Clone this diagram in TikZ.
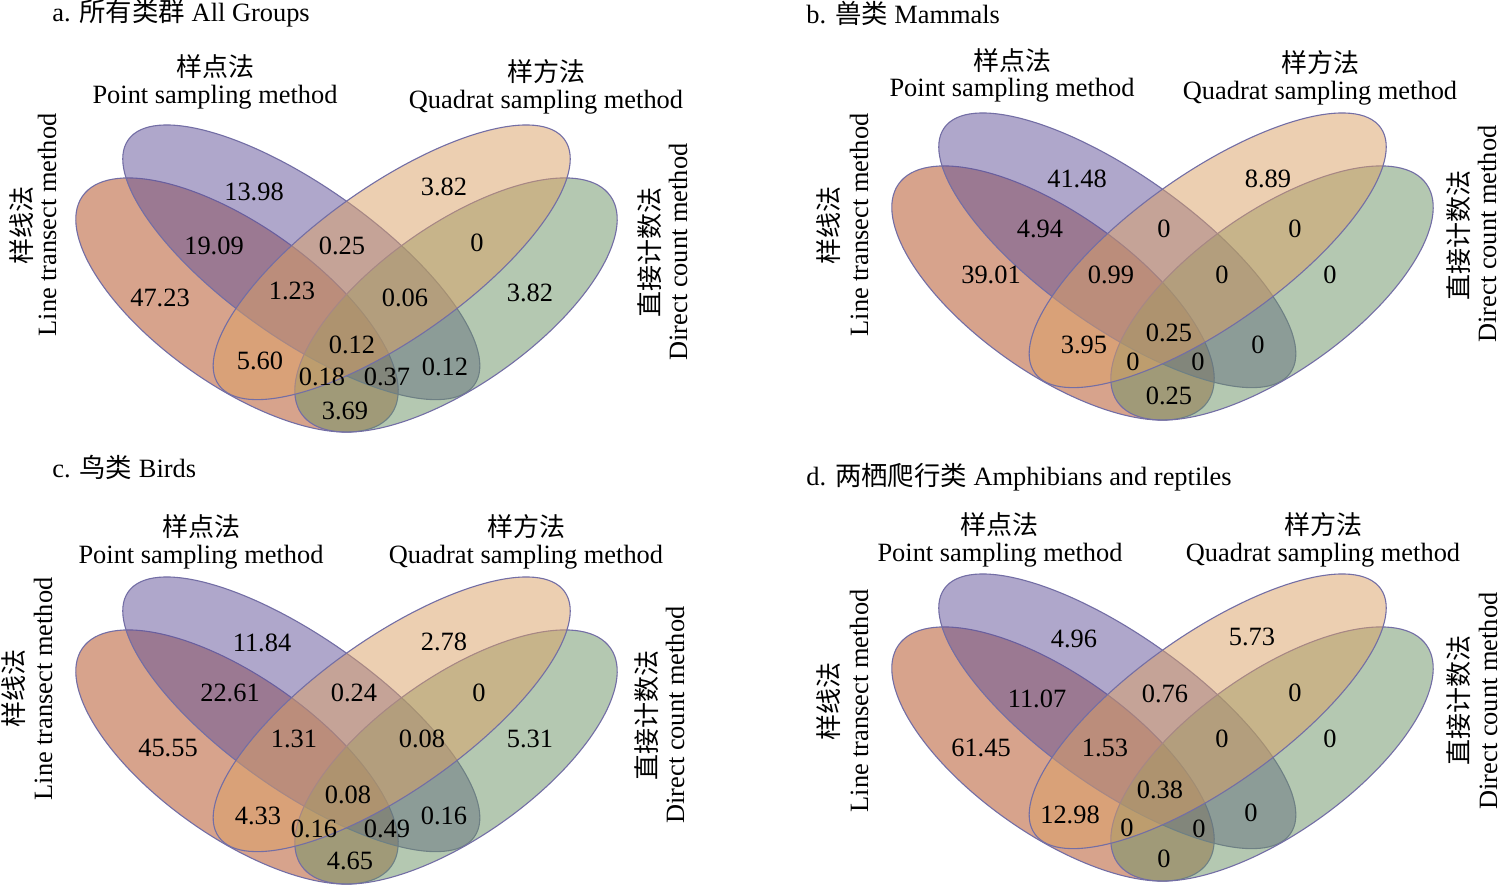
\documentclass[tikz,border=0pt]{standalone}
\usepackage{fontspec}
\setmainfont{Liberation Serif}
\newfontfamily\cjk{Noto Sans CJK SC}
\definecolor{cRed}{RGB}{177,73,27}
\definecolor{cBlue}{RGB}{97,81,153}
\definecolor{cOrange}{RGB}{219,161,101}
\definecolor{cGreen}{RGB}{107,147,101}
\definecolor{cLine}{RGB}{115,110,165}
\tikzset{
  setshape/.style={draw=cLine, line width=0.55pt, fill opacity=0.5},
  num/.style={inner sep=0pt, font=\fontsize{13.2}{15}\selectfont},
  lab/.style={inner sep=0pt, font=\fontsize{13.2}{15}\selectfont},
  cnlab/.style={inner sep=0pt, font=\cjk\fontsize{13}{15}\selectfont},
  vert/.style={rotate=90},
  ttl/.style={inner sep=0pt, anchor=west, font=\fontsize{13.2}{15}\selectfont}
}
\newcommand{\vennsets}{%
  \path[setshape, fill=cRed, rotate around={-35.2:(237,305)}] (237,305) ellipse [x radius=189, y radius=80];
  \path[setshape, fill=cBlue, rotate around={-35.3:(301.3,262.3)}] (301.3,262.3) ellipse [x radius=212, y radius=76];
  \path[setshape, fill=cGreen, rotate around={35.2:(456,305)}] (456,305) ellipse [x radius=189, y radius=80];
  \path[setshape, fill=cOrange, rotate around={35.3:(391.7,262.3)}] (391.7,262.3) ellipse [x radius=212, y radius=76];
}
\begin{document}
\begin{tikzpicture}[x=0.5pt, y=-0.5pt]
\fill[white] (0,0) rectangle (1500,884);
\useasboundingbox (0,0) rectangle (1500,884);
% ellipses
\begin{scope}\vennsets\end{scope}
\begin{scope}[shift={(816,-12)}]\vennsets\end{scope}
\begin{scope}[shift={(0,452)}]\vennsets\end{scope}
\begin{scope}[shift={(816,449)}]\vennsets\end{scope}
% ---------- panel a
\node[ttl] (ta) at (52,13) {a. {\cjk 所有类群} All Groups};
\node[cnlab] (apc) at (215,67) {样点法};
\node[lab] (ape) at (215,97) {Point sampling method};
\node[cnlab] (aqc) at (546,72) {样方法};
\node[lab] (aqe) at (546,102) {Quadrat sampling method};
\node[cnlab, vert] (alc) at (22,225) {样线法};
\node[lab, vert] (ale) at (47,225) {Line transect method};
\node[cnlab, vert] (adc) at (650,252) {直接计数法};
\node[lab, vert] (ade) at (678,252) {Direct count method};
\node[num] (a1) at (254,192) {13.98};
\node[num] (a2) at (444,187) {3.82};
\node[num] (a3) at (214,246) {19.09};
\node[num] (a4) at (342,246) {0.25};
\node[num] (a5) at (477,243) {0};
\node[num] (a6) at (160,298) {47.23};
\node[num] (a7) at (292,291) {1.23};
\node[num] (a8) at (405,298) {0.06};
\node[num] (a9) at (530,293) {3.82};
\node[num] (a10) at (352,345) {0.12};
\node[num] (a11) at (260,361) {5.60};
\node[num] (a12) at (322,377) {0.18};
\node[num] (a13) at (387,377) {0.37};
\node[num] (a14) at (445,367) {0.12};
\node[num] (a15) at (345,411) {3.69};
% ---------- panel b
\node[ttl] (tb) at (806,13) {b. {\cjk 兽类} Mammals};
\node[cnlab] (bpc) at (1012,61) {样点法};
\node[lab] (bpe) at (1012,90) {Point sampling method};
\node[cnlab] (bqc) at (1320,63) {样方法};
\node[lab] (bqe) at (1320,93) {Quadrat sampling method};
\node[cnlab, vert] (blc) at (829,225) {样线法};
\node[lab, vert] (ble) at (859,225) {Line transect method};
\node[cnlab, vert] (bdc) at (1459,235) {直接计数法};
\node[lab, vert] (bde) at (1487,234) {Direct count method};
\node[num] (b1) at (1077,179) {41.48};
\node[num] (b2) at (1268,179) {8.89};
\node[num] (b3) at (1040,229) {4.94};
\node[num] (b4) at (1164,229) {0};
\node[num] (b5) at (1295,229) {0};
\node[num] (b6) at (991,275) {39.01};
\node[num] (b7) at (1111,275) {0.99};
\node[num] (b8) at (1222,275) {0};
\node[num] (b9) at (1330,275) {0};
\node[num] (b10) at (1169,333) {0.25};
\node[num] (b11) at (1084,345) {3.95};
\node[num] (b12) at (1133,362) {0};
\node[num] (b13) at (1198,362) {0};
\node[num] (b14) at (1258,345) {0};
\node[num] (b15) at (1169,396) {0.25};
% ---------- panel c
\node[ttl] (tc) at (52,467) {c. {\cjk 鸟类} Birds};
\node[cnlab] (cpc) at (201,527) {样点法};
\node[lab] (cpe) at (201,557) {Point sampling method};
\node[cnlab] (cqc) at (526,527) {样方法};
\node[lab] (cqe) at (526,557) {Quadrat sampling method};
\node[cnlab, vert] (clc) at (14,688) {样线法};
\node[lab, vert] (cle) at (43,689) {Line transect method};
\node[cnlab, vert] (cdc) at (647,715) {直接计数法};
\node[lab, vert] (cde) at (675,715) {Direct count method};
\node[num] (c1) at (262,643) {11.84};
\node[num] (c2) at (444,642) {2.78};
\node[num] (c3) at (230,693) {22.61};
\node[num] (c4) at (354,693) {0.24};
\node[num] (c5) at (479,693) {0};
\node[num] (c6) at (168,748) {45.55};
\node[num] (c7) at (294,739) {1.31};
\node[num] (c8) at (422,739) {0.08};
\node[num] (c9) at (530,739) {5.31};
\node[num] (c10) at (348,795) {0.08};
\node[num] (c11) at (258,816) {4.33};
\node[num] (c12) at (314,829) {0.16};
\node[num] (c13) at (387,829) {0.49};
\node[num] (c14) at (444,816) {0.16};
\node[num] (c15) at (350,861) {4.65};
% ---------- panel d
\node[ttl] (td) at (806,477) {d. {\cjk 两栖爬行类} Amphibians and reptiles};
\node[cnlab] (dpc) at (999,525) {样点法};
\node[lab] (dpe) at (1000,555) {Point sampling method};
\node[cnlab] (dqc) at (1323,525) {样方法};
\node[lab] (dqe) at (1323,555) {Quadrat sampling method};
\node[cnlab, vert] (dlc) at (829,701) {样线法};
\node[lab, vert] (dle) at (859,701) {Line transect method};
\node[cnlab, vert] (ddc) at (1459,700) {直接计数法};
\node[lab, vert] (dde) at (1488,701) {Direct count method};
\node[num] (d1) at (1074,639) {4.96};
\node[num] (d2) at (1252,637) {5.73};
\node[num] (d3) at (1037,699) {11.07};
\node[num] (d4) at (1165,694) {0.76};
\node[num] (d5) at (1295,693) {0};
\node[num] (d6) at (981,748) {61.45};
\node[num] (d7) at (1105,748) {1.53};
\node[num] (d8) at (1222,739) {0};
\node[num] (d9) at (1330,739) {0};
\node[num] (d10) at (1160,790) {0.38};
\node[num] (d11) at (1070,815) {12.98};
\node[num] (d12) at (1127,828) {0};
\node[num] (d13) at (1199,829) {0};
\node[num] (d14) at (1251,813) {0};
\node[num] (d15) at (1164,859) {0};
\end{tikzpicture}
\end{document}
